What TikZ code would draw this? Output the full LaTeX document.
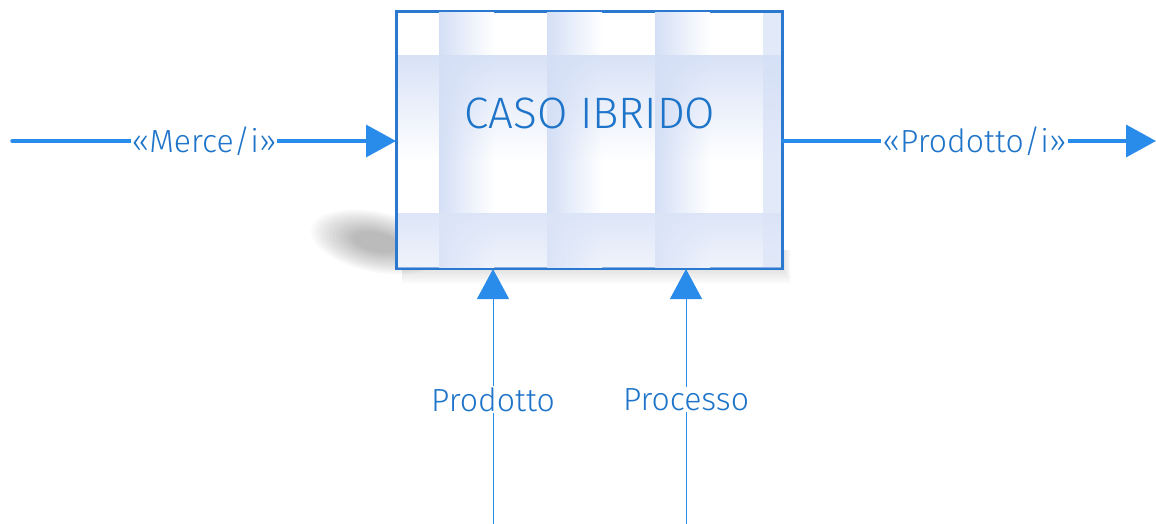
\documentclass[tikz,border=0pt]{standalone}
\usepackage{fontspec}
\setmainfont{Fira Sans}[UprightFont={* Light}]
\usetikzlibrary{arrows.meta,fadings}

\definecolor{linkblue}{HTML}{2A8CEA}
\definecolor{textblue}{HTML}{1E74C9}
\definecolor{frameblue}{HTML}{2A78D0}
\definecolor{tint}{HTML}{D4DFF6}
\definecolor{tintlight}{HTML}{E2E9F9}

\tikzfading[name=fadedown, top color=transparent!0, bottom color=transparent!100]

\tikzset{
  mainbox/.style={draw=frameblue, line width=2pt, fill=white,
    minimum width=385pt, minimum height=256pt, inner sep=0pt},
  title/.style={text=textblue, font=\fontsize{44}{48}\selectfont},
  flowlabel/.style={text=textblue, fill=white, inner sep=1pt,
    font=\fontsize{32}{36}\selectfont},
  flow/.style={draw=linkblue, line width=3.5pt, line cap=round,
    -{Triangle[length=30pt,width=32pt]}},
  control/.style={draw=linkblue, line width=1pt,
    -{Triangle[length=30pt,width=32pt]}},
  shadowlayer/.style={fill=black, opacity=0.022},
}

\begin{document}
\begin{tikzpicture}[x=1pt,y=-1pt]
\useasboundingbox (0,0) rectangle (1156,524);

% soft cast shadow to the lower left: stacked translucent ellipses
\foreach \i in {0,...,12}{
  \fill[shadowlayer, rotate around={-12:(376,242)}]
    (376,242) ellipse [x radius={66-3.6*\i}, y radius={30-1.7*\i}];
}
% faint shadow just below the box
\foreach \j in {1,...,10}{
  \fill[fill=black, opacity=0.012] (402,250) rectangle (783+0.8*\j,268+1.6*\j);
}

% the activity box
\node[mainbox] (box) at (589.5,140) {};

% vertical stripes fading to white
\foreach \sx in {439,547,655}{
  \shade[left color=tint, right color=white] (\sx,13) rectangle (\sx+55,267);
}
\fill[tintlight] (763,13) rectangle (781,267);

% horizontal tinted bands
\fill[tint, path fading=fadedown, fill opacity=0.9] (398,55) rectangle (781,160);
\fill[tint, path fading=fadedown, fill opacity=0.9] (398,213) rectangle (781,268);
\fill[tintlight, fill opacity=0.5] (398,213) rectangle (781,268);

% frame drawn again over the shading
\draw[draw=frameblue, line width=2pt] (box.north west) rectangle (box.south east);

\node[title] (name) at (590,113) {CASO IBRIDO};

% inputs and outputs
\coordinate (inL) at (12,141);
\coordinate (outR) at (1156,141);
\path[flow] (inL) -- (box.west |- inL)
  node[flowlabel, midway] (merce) {«Merce/i»};
\path[flow] (box.east |- inL) -- (outR)
  node[flowlabel, midway, xshift=5pt] (prodotti) {«Prodotto/i»};

% controls from below
\coordinate (c1) at (493,524);
\coordinate (c2) at (686,524);
\path[control] (c1) -- (c1 |- box.south)
  node[flowlabel, midway, yshift=-3pt] (prod) {Prodotto};
\path[control] (c2) -- (c2 |- box.south)
  node[flowlabel, midway, yshift=-3pt] (proc) {Processo};
\end{tikzpicture}
\end{document}
